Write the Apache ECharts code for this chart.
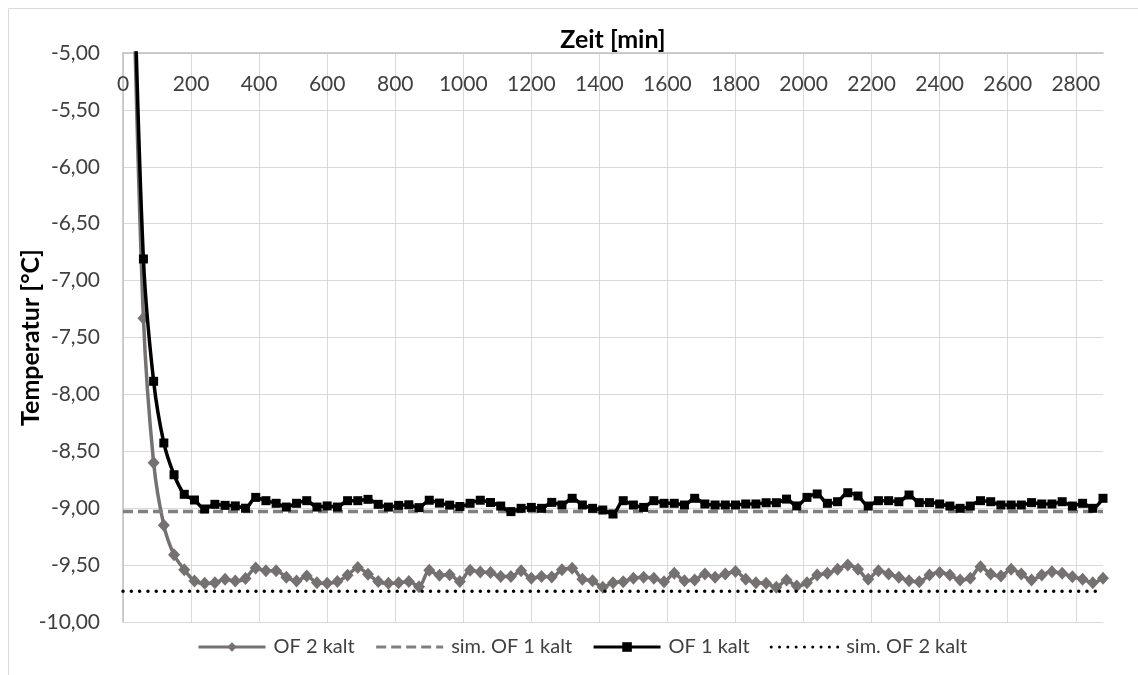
<!DOCTYPE html>
<html>
<head>
<meta charset="utf-8">
<script src="https://cdn.jsdelivr.net/npm/echarts@6/dist/echarts.min.js"></script>
<style>
  html, body { margin: 0; padding: 0; background: #fff; }
  #chart { width: 1138px; height: 675px; }
</style>
</head>
<body>
<div id="chart"></div>
<script>
// ---- data ----
const times = [30, 60, 90, 120, 150, 180, 210, 240, 270, 300, 330, 360, 390, 420, 450, 480, 510, 540, 570, 600,
  630, 660, 690, 720, 750, 780, 810, 840, 870, 900, 930, 960, 990, 1020, 1050, 1080, 1110, 1140, 1170, 1200,
  1230, 1260, 1290, 1320, 1350, 1380, 1410, 1440, 1470, 1500, 1530, 1560, 1590, 1620, 1650, 1680, 1710, 1740, 1770, 1800,
  1830, 1860, 1890, 1920, 1950, 1980, 2010, 2040, 2070, 2100, 2130, 2160, 2190, 2220, 2250, 2280, 2310, 2340, 2370, 2400,
  2430, 2460, 2490, 2520, 2550, 2580, 2610, 2640, 2670, 2700, 2730, 2760, 2790, 2820, 2850, 2880];

const of2Kalt = [-4.30, -7.33, -8.60, -9.15, -9.41, -9.54, -9.64, -9.66, -9.655, -9.625, -9.64, -9.617, -9.525, -9.55, -9.55, -9.607, -9.64, -9.596, -9.655, -9.66,
  -9.645, -9.59, -9.52, -9.58, -9.645, -9.66, -9.655, -9.645, -9.69, -9.545, -9.59, -9.585, -9.645, -9.545, -9.56, -9.566, -9.60, -9.60, -9.55, -9.616,
  -9.60, -9.605, -9.54, -9.527, -9.625, -9.637, -9.695, -9.654, -9.646, -9.616, -9.607, -9.616, -9.646, -9.572, -9.637, -9.63, -9.578, -9.607, -9.578, -9.557,
  -9.625, -9.654, -9.66, -9.695, -9.63, -9.684, -9.655, -9.587, -9.572, -9.537, -9.499, -9.537, -9.625, -9.549, -9.578, -9.607, -9.637, -9.646, -9.587, -9.566,
  -9.587, -9.631, -9.616, -9.514, -9.578, -9.596, -9.537, -9.578, -9.631, -9.587, -9.558, -9.572, -9.602, -9.625, -9.655, -9.616];

const of1Kalt = [-4.00, -6.81, -7.885, -8.427, -8.706, -8.878, -8.928, -9.007, -8.966, -8.975, -8.98, -9.00, -8.905, -8.934, -8.957, -8.99, -8.957, -8.934, -8.99, -8.98,
  -8.99, -8.934, -8.934, -8.922, -8.966, -8.99, -8.975, -8.97, -8.995, -8.93, -8.955, -8.973, -8.985, -8.957, -8.93, -8.95, -8.981, -9.03, -9.001, -8.993,
  -9.001, -8.949, -8.972, -8.913, -8.972, -9.001, -9.016, -9.051, -8.934, -8.972, -8.993, -8.934, -8.957, -8.957, -8.972, -8.913, -8.963, -8.972, -8.972, -8.972,
  -8.963, -8.963, -8.952, -8.952, -8.92, -8.98, -8.905, -8.875, -8.957, -8.943, -8.864, -8.893, -8.981, -8.934, -8.934, -8.943, -8.884, -8.951, -8.951, -8.963,
  -8.981, -9.001, -8.981, -8.934, -8.943, -8.972, -8.972, -8.972, -8.951, -8.963, -8.963, -8.943, -8.981, -8.957, -9.001, -8.913];

const simTimes = [0, 2880];
const simOf1Kalt = [-9.03, -9.03];
const simOf2Kalt = [-9.73, -9.73];

const seriesNames = ['OF 2 kalt', 'sim. OF 1 kalt', 'OF 1 kalt', 'sim. OF 2 kalt'];
const xTitle = 'Zeit [min]';
const yTitle = 'Temperatur [°C]';

// ---- chart ----
const pair = (xs, ys) => xs.map((x, i) => [x, ys[i]]);
const FONT = 'Lato, "Noto Sans", sans-serif';
const HIDDEN = { color: 'rgba(0,0,0,0)', borderColor: 'rgba(0,0,0,0)', borderWidth: 0, opacity: 0 };

const chart = echarts.init(document.getElementById('chart'), null, { renderer: 'canvas' });
chart.setOption({
  animation: false,
  backgroundColor: '#ffffff',
  graphic: [{
    type: 'rect', silent: true,
    shape: { x: 8.5, y: 8.5, width: 1140, height: 700 },
    style: { fill: 'none', stroke: '#d9d9d9', lineWidth: 1 }
  }],
  grid: { left: 123, top: 53, right: 35, bottom: 53, containLabel: false, outerBoundsMode: 'none' },
  legend: {
    left: 197, top: 637, padding: 0,
    itemWidth: 67, itemHeight: 12, itemGap: 20,
    lineStyle: { width: 3 },
    textStyle: { fontFamily: FONT, fontSize: 20, color: '#404040', padding: [0, 0, 0, 3] },
    data: [
      { name: seriesNames[0] },
      { name: seriesNames[1], itemStyle: HIDDEN },
      { name: seriesNames[2] },
      { name: seriesNames[3], itemStyle: HIDDEN }
    ]
  },
  xAxis: {
    type: 'value', position: 'top',
    min: 0, max: 2880, interval: 200,
    name: xTitle, nameLocation: 'middle', nameGap: 1, nameMoveOverlap: false,
    nameTextStyle: { fontFamily: FONT, fontSize: 25, fontWeight: 'bold', color: '#000' },
    axisLine: { show: true, onZero: false, lineStyle: { color: '#bfbfbf', width: 1.5 } },
    axisTick: { show: false },
    axisLabel: { inside: true, margin: 31, verticalAlign: 'middle', showMaxLabel: false,
      fontFamily: FONT, fontSize: 21, color: '#404040',
      formatter: v => String(Math.round(v)) },
    splitLine: { show: true, showMaxLine: false, lineStyle: { color: '#d9d9d9', width: 1 } }
  },
  yAxis: {
    type: 'value',
    min: -10, max: -5, interval: 0.5,
    name: yTitle, nameLocation: 'middle', nameGap: 80, nameRotate: 90, nameMoveOverlap: false,
    nameTextStyle: { fontFamily: FONT, fontSize: 25, fontWeight: 'bold', color: '#000' },
    axisLine: { show: true, onZero: false, lineStyle: { color: '#bfbfbf', width: 1.5 } },
    axisTick: { show: false },
    axisLabel: { margin: 23, fontFamily: FONT, fontSize: 21, color: '#404040',
      formatter: v => v.toFixed(2).replace('.', ',') },
    splitLine: { show: true, lineStyle: { color: '#d9d9d9', width: 1 } }
  },
  series: [
    {
      name: seriesNames[0], type: 'line', data: pair(times, of2Kalt),
      smooth: 0.3, symbol: 'diamond', symbolSize: [12, 13], showSymbol: true,
      lineStyle: { color: '#767171', width: 3.5 },
      itemStyle: { color: '#767171' }, clip: true, z: 2
    },
    {
      name: seriesNames[1], type: 'line', data: pair(simTimes, simOf1Kalt),
      symbol: 'none',
      lineStyle: { color: '#808080', width: 3.5, type: [10, 5] },
      itemStyle: { color: '#808080' }, z: 3
    },
    {
      name: seriesNames[2], type: 'line', data: pair(times, of1Kalt),
      smooth: 0.3, symbol: 'rect', symbolSize: 9, showSymbol: true,
      lineStyle: { color: '#000000', width: 3.5 },
      itemStyle: { color: '#000000' }, clip: true, z: 4
    },
    {
      name: seriesNames[3], type: 'line', data: pair(simTimes, simOf2Kalt),
      symbol: 'none',
      lineStyle: { color: '#000000', width: 3.5, type: [0.01, 8.3], cap: 'round' },
      itemStyle: { color: '#000000' }, z: 5
    }
  ]
});
</script>
</body>
</html>
